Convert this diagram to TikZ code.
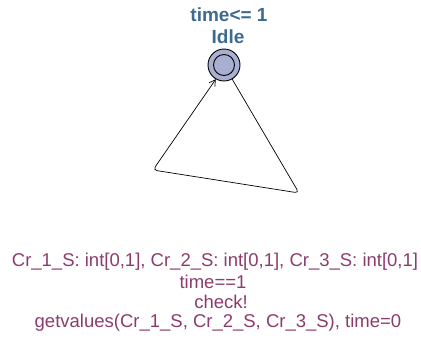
\documentclass[tikz,border=0pt]{standalone}
\usepackage{fontspec}
\setmainfont{Liberation Sans}
\usetikzlibrary{arrows.meta}
\definecolor{titleblue}{HTML}{3D6A90}
\definecolor{labpurple}{HTML}{8C3C6C}
\definecolor{nodefill}{HTML}{A8AFD0}
\tikzset{
  loc/.style={circle,draw,line width=0.9pt,fill=nodefill,minimum size=32pt,inner sep=0pt},
  inner/.style={circle,draw,line width=0.9pt,minimum size=21pt,inner sep=0pt},
  title/.style={text=titleblue,font=\fontsize{19}{21}\selectfont\bfseries,inner sep=0pt},
  lab/.style={text=labpurple,font=\fontsize{18.5}{20}\selectfont,inner sep=0pt},
  edge/.style={line width=0.7pt,rounded corners=4pt},
}
\begin{document}
\begin{tikzpicture}[x=1pt,y=-1pt]
\useasboundingbox (0,0) rectangle (421,338);
\node[loc] (idle) at (224,65) {};
\node[inner] (idlein) at (224,65) {};
\node[title] (inv) at (229,15) {time<= 1};
\node[title] (name) at (228,37) {Idle};
\coordinate (c1) at (299,193);
\coordinate (c2) at (153,170);
\draw[edge,-{Straight Barb[length=6pt,width=7pt]}] (idle.-60) -- (c1) -- (c2) -- (idle.-120);
\node[lab] (sel) at (215,262) {Cr\_1\_S: int[0,1], Cr\_2\_S: int[0,1], Cr\_3\_S: int[0,1]};
\node[lab] (guard) at (213,282) {time==1};
\node[lab] (sync) at (221,302) {check!};
\node[lab] (upd) at (218,323) {getvalues(Cr\_1\_S, Cr\_2\_S, Cr\_3\_S), time=0};
\end{tikzpicture}
\end{document}
